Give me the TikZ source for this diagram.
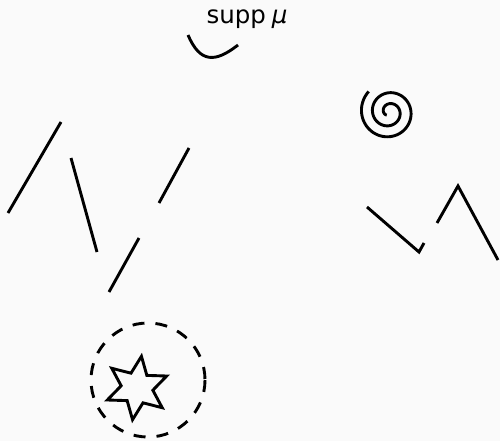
\documentclass[tikz,border=0pt]{standalone}
\usepackage{fontspec}
\setmainfont{DejaVu Sans}
\usetikzlibrary{calc}
\begin{document}
\begin{tikzpicture}[x=1pt,y=-1pt,
  stroke/.style={line width=2.9pt,line cap=butt,line join=miter},
  dashring/.style={line width=2.9pt,dash pattern=on 12pt off 11pt}]
\fill[white!98!black] (0,0) rectangle (500,441);
\useasboundingbox (0,0) rectangle (500,441);
% label
\node[anchor=base,inner sep=0pt,font=\fontsize{24.5}{28}\selectfont] (lbl) at (247,24) {supp\hspace{6pt}\textit{μ}};
% curve under label
\coordinate (c1) at (188,35);
\coordinate (c2) at (238,45);
\draw[stroke] (c1) .. controls (200,63) and (215,63) .. (c2);
% line segments
\coordinate (a1) at (61,122); \coordinate (a2) at (8,213);
\coordinate (b1) at (71,158); \coordinate (b2) at (97,252);
\coordinate (d1) at (189,148); \coordinate (d2) at (159,203);
\coordinate (e1) at (139,238); \coordinate (e2) at (109,292);
\draw[stroke] (a1) -- (a2);
\draw[stroke] (b1) -- (b2);
\draw[stroke] (d1) -- (d2);
\draw[stroke] (e1) -- (e2);
% zigzags
\coordinate (z1) at (367,207); \coordinate (z2) at (419,252); \coordinate (z3) at (424,243);
\coordinate (w1) at (437,223); \coordinate (w2) at (458,186); \coordinate (w3) at (498,260);
\draw[stroke] (z1) -- (z2) -- (z3);
\draw[stroke] (w1) -- (w2) -- (w3);
% spiral
\draw[stroke,line join=round] plot[domain=2.2:16.5,samples=300,smooth]
  ({389+1.75*\x*cos(\x r)},{112+1.75*\x*sin(\x r)});
% dashed ring
\coordinate (rc) at (148,380);
\draw[dashring] (rc) circle[radius=57];
% star
\coordinate (sc) at (137,388);
\draw[stroke] ($(sc)+(-82:32)$)
  \foreach \k in {0,...,5} { -- ($(sc)+({-82+60*\k}:32)$) -- ($(sc)+({-52+60*\k}:16)$) } -- cycle;
\end{tikzpicture}
\end{document}
